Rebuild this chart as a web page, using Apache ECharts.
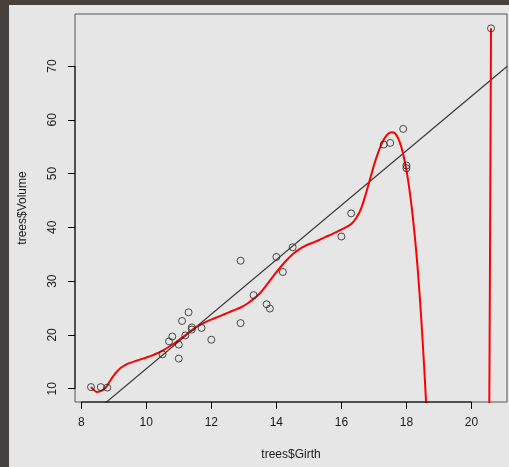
<!DOCTYPE html>
<html>
<head>
<meta charset="utf-8">
<script src="https://cdn.jsdelivr.net/npm/echarts@6/dist/echarts.min.js"></script>
<style>
html,body{margin:0;padding:0;background:#46413c;width:509px;height:467px;overflow:hidden;}
#bg{position:absolute;left:9px;top:5px;right:0;bottom:0;background:#e6e6e6;}
#chart{position:absolute;left:0;top:0;width:509px;height:467px;}
</style>
</head>
<body>
<div id="bg"></div>
<div id="chart"></div>
<script>
// trees data
const girth = [8.3, 8.6, 8.8, 10.5, 10.7, 10.8, 11.0, 11.0, 11.1, 11.2, 11.3, 11.4, 11.4, 11.7, 12.0, 12.9, 12.9, 13.3, 13.7, 13.8, 14.0, 14.2, 14.5, 16.0, 16.3, 17.3, 17.5, 17.9, 18.0, 18.0, 20.6];
const volume = [10.3, 10.3, 10.2, 16.4, 18.8, 19.7, 15.6, 18.2, 22.6, 19.9, 24.2, 21.0, 21.4, 21.3, 19.1, 22.2, 33.8, 27.4, 25.7, 24.9, 34.5, 31.7, 36.3, 38.3, 42.6, 55.4, 55.7, 58.3, 51.5, 51.0, 77.0];

// linear fit line (read endpoints)
const lmX = [7.5, 21.1];
const lmY = [1.05, 69.95];

// red fitted curve (segment 1, gap, segment 2)
const curveX = [8.30, 8.38, 8.47, 8.58, 8.68, 8.78, 8.88, 8.98, 9.10, 9.22, 9.35, 9.50, 9.70, 9.90, 10.10, 10.30, 10.50, 10.70, 10.90, 11.10, 11.30, 11.50, 11.70, 11.90, 12.10, 12.30, 12.50, 12.70, 12.90, 13.10, 13.30, 13.50, 13.70, 13.90, 14.10, 14.30, 14.50, 14.70, 14.90, 15.10, 15.30, 15.50, 15.70, 15.90, 16.10, 16.30, 16.45, 16.60, 16.75, 16.90, 17.05, 17.20, 17.32, 17.44, 17.55, 17.65, 17.75, 17.85, 17.95, 18.05, 18.15, 18.25, 18.35, 18.45, 18.55, 18.62, 18.68, null, 20.54, 20.57, 20.60];
const curveY = [10.3, 9.8, 9.4, 9.5, 9.8, 10.4, 11.4, 12.3, 13.2, 13.9, 14.4, 14.8, 15.2, 15.6, 16.0, 16.5, 17.1, 17.8, 18.6, 19.5, 20.4, 21.3, 22.0, 22.6, 23.1, 23.6, 24.1, 24.6, 25.1, 25.8, 26.7, 27.8, 29.3, 30.9, 32.4, 33.8, 35.0, 35.9, 36.6, 37.1, 37.6, 38.2, 38.7, 39.3, 39.9, 40.6, 41.7, 43.4, 46.2, 49.4, 52.5, 55.0, 56.5, 57.4, 57.7, 57.5, 56.5, 54.8, 52.2, 48.8, 44.3, 38.8, 32.0, 23.5, 13.5, 5.5, -2.0, null, -2.0, 35.0, 77.0];

const xTicks = [8, 10, 12, 14, 16, 18, 20];
const yTicks = [10, 20, 30, 40, 50, 60, 70];

const xMin = 7.808, xMax = 21.092, yMin = 7.528, yMax = 79.672;
const FONT = "'Liberation Sans', Arial, Helvetica, sans-serif";
const TXT = '#1a1a1a';

const chart = echarts.init(document.getElementById('chart'), null, {renderer: 'canvas'});

const scatterData = girth.map((g, i) => [g, volume[i]]);
const lmData = lmX.map((x, i) => [x, lmY[i]]);
const curveData = curveX.map((x, i) => (x === null ? [null, null] : [x, curveY[i]]));
const xAxisLine = [[xTicks[0], yMin], [xTicks[xTicks.length - 1], yMin]];
const yAxisLine = [[xMin, yTicks[0]], [xMin, yTicks[yTicks.length - 1]]];

chart.setOption({
  animation: false,
  backgroundColor: 'transparent',
  grid: {left: 75, top: 14, right: 2, bottom: 65, show: true, borderColor: '#555', borderWidth: 1, backgroundColor: 'transparent'},
  xAxis: {
    type: 'value', min: xMin, max: xMax,
    name: 'trees$Girth', nameLocation: 'middle', nameGap: 47,
    nameTextStyle: {fontFamily: FONT, fontSize: 12, color: TXT},
    axisLine: {show: false},
    splitLine: {show: false},
    axisTick: {show: true, customValues: xTicks, length: 7, inside: false, lineStyle: {color: '#000', width: 1}},
    axisLabel: {customValues: xTicks, fontFamily: FONT, fontSize: 12, color: TXT, margin: 15}
  },
  yAxis: {
    type: 'value', min: yMin, max: yMax,
    name: 'trees$Volume', nameLocation: 'middle', nameGap: 46,
    nameTextStyle: {fontFamily: FONT, fontSize: 12, color: TXT},
    axisLine: {show: false},
    splitLine: {show: false},
    axisTick: {show: true, customValues: yTicks, length: 7, inside: false, lineStyle: {color: '#000', width: 1}},
    axisLabel: {customValues: yTicks, fontFamily: FONT, fontSize: 12, color: TXT, margin: 16, rotate: 90}
  },
  series: [
    {type: 'line', data: xAxisLine, symbol: 'none', clip: false, lineStyle: {color: '#000', width: 1}, silent: true, z: 5},
    {type: 'line', data: yAxisLine, symbol: 'none', clip: false, lineStyle: {color: '#000', width: 1}, silent: true, z: 5},
    {type: 'line', data: lmData, symbol: 'none', clip: true, lineStyle: {color: '#3a3a3a', width: 1.2}, z: 2},
    {type: 'line', data: curveData, symbol: 'none', clip: true, smooth: 0.3, connectNulls: false, lineStyle: {color: '#ff0000', width: 2}, z: 3},
    {type: 'scatter', data: scatterData, symbol: 'circle', symbolSize: 7, itemStyle: {color: 'rgba(0,0,0,0)', borderColor: '#222', borderWidth: 1}, z: 4}
  ]
});
</script>
</body>
</html>
